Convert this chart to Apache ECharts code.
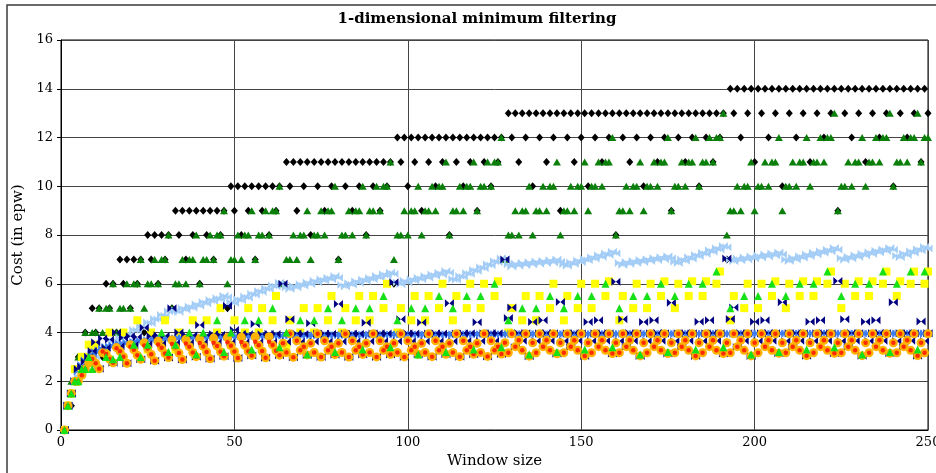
<!DOCTYPE html>
<html><head><meta charset="utf-8">
<script src="https://cdn.jsdelivr.net/npm/echarts@6/dist/echarts.min.js"></script>
<style>html,body{margin:0;padding:0;background:#fff}#c{width:936px;height:473px}</style>
</head><body><div id="c"></div>
<script>
// Window sizes run 1..250; value index i belongs to window size firstWindow + i
const firstWindow = 1;
const xTickStep = 50, yTickStep = 2;
const titleText = '1-dimensional minimum filtering';
const n = null; // no visible mark at that window size

const blackDiamond = [
0,1,1,2,3,3,4,3,5,4,5,3,6,5,6,4,
7,6,7,5,7,6,7,4,8,7,8,6,8,7,8,5,
9,8,9,7,9,8,9,6,9,8,9,7,9,8,9,5,
10,9,10,8,10,9,10,7,10,9,10,8,10,9,10,6,
11,10,11,9,11,10,11,8,11,10,11,9,11,10,11,7,
11,10,11,9,11,10,11,8,11,10,11,9,11,10,11,6,
12,11,12,10,12,11,12,9,12,11,12,10,12,11,12,8,
12,11,12,10,12,11,12,9,12,11,12,10,12,11,12,7,
13,12,13,11,13,12,13,10,13,12,13,11,13,12,13,9,
13,12,13,11,13,12,13,10,13,12,13,11,13,12,13,8,
13,12,13,11,13,12,13,10,13,12,13,11,13,12,13,9,
13,12,13,11,13,12,13,10,13,12,13,11,13,12,13,7,
14,13,14,12,14,13,14,11,14,13,14,12,14,13,14,10,
14,13,14,12,14,13,14,11,14,13,14,12,14,13,14,9,
14,13,14,12,14,13,14,11,14,13,14,12,14,13,14,10,
14,13,14,12,14,13,14,11,14,13];

const darkGreen = [
0,1,2,2,3,3,4,3,4,4,5,4,5,5,6,4,
5,5,6,5,6,6,7,5,6,6,7,6,7,7,8,5,
6,6,7,6,7,7,8,6,7,7,8,7,8,8,9,6,
7,7,8,7,8,8,9,7,8,8,9,8,9,9,10,6,
7,7,8,7,8,8,9,7,8,8,9,8,9,9,10,7,
8,8,9,8,9,9,10,8,9,9,10,9,10,10,11,7,
8,8,9,8,9,9,10,8,9,9,10,9,10,10,11,8,
9,9,10,9,10,10,11,9,10,10,11,10,11,11,12,7,
8,8,9,8,9,9,10,8,9,9,10,9,10,10,11,8,
9,9,10,9,10,10,11,9,10,10,11,10,11,11,12,8,
9,9,10,9,10,10,11,9,10,10,11,10,11,11,12,9,
10,10,11,10,11,11,12,10,11,11,12,11,12,12,13,8,
9,9,10,9,10,10,11,9,10,10,11,10,11,11,12,9,
10,10,11,10,11,11,12,10,11,11,12,11,12,12,13,9,
10,10,11,10,11,11,12,10,11,11,12,11,12,12,13,10,
11,11,12,11,12,12,13,11,12,12];

const lightBlue = [
0,1,1.5,2,2.2,2.4,2.6,2.75,2.94,3.01,3.19,3.26,3.44,3.46,3.64,3.66,
3.8,3.77,3.95,3.93,4.1,4.08,4.25,4.23,4.41,4.38,4.55,4.54,4.72,4.69,4.87,4.85,
4.9,4.84,4.99,4.93,5.07,5.02,5.16,5.1,5.25,5.19,5.33,5.28,5.42,5.36,5.51,5.45,
5.25,5.21,5.36,5.32,5.48,5.43,5.59,5.55,5.7,5.66,5.82,5.77,5.93,5.89,6.04,6.0,
5.85,5.78,5.92,5.85,5.98,5.92,6.05,5.98,6.12,6.05,6.18,6.12,6.25,6.18,6.32,6.25,
5.95,5.89,6.02,5.96,6.1,6.03,6.17,6.11,6.24,6.18,6.32,6.25,6.39,6.33,6.46,6.4,
6.05,5.98,6.12,6.05,6.18,6.12,6.25,6.18,6.32,6.25,6.38,6.32,6.45,6.38,6.52,6.45,
6.2,6.16,6.32,6.28,6.44,6.4,6.56,6.52,6.68,6.64,6.8,6.76,6.92,6.88,7.04,7.0,
6.8,6.71,6.83,6.74,6.85,6.77,6.88,6.79,6.91,6.82,6.93,6.85,6.96,6.87,6.99,6.9,
6.8,6.74,6.87,6.81,6.95,6.88,7.02,6.96,7.09,7.03,7.17,7.1,7.24,7.18,7.31,7.25,
6.85,6.77,6.89,6.81,6.93,6.85,6.97,6.89,7.01,6.93,7.05,6.97,7.09,7.01,7.13,7.05,
6.9,6.85,6.99,6.94,7.09,7.03,7.18,7.13,7.27,7.22,7.37,7.31,7.46,7.41,7.55,7.5,
7.0,6.92,7.04,6.96,7.08,7.0,7.12,7.04,7.16,7.08,7.2,7.12,7.24,7.16,7.28,7.2,
7.0,6.93,7.07,7.0,7.13,7.07,7.2,7.13,7.27,7.2,7.33,7.27,7.4,7.33,7.47,7.4,
7.05,6.98,7.11,7.04,7.17,7.1,7.23,7.16,7.29,7.22,7.35,7.28,7.41,7.34,7.47,7.4,
7.15,7.09,7.24,7.18,7.33,7.27,7.42,7.36,7.51,7.45];

const yellowSq = [
0,1,1.5,2.5,2.5,3,3,3.5,3.3,3.5,n,n,3.3,4,n,n,
3.3,4,n,n,3.5,4.5,n,n,3.3,4,n,n,3.5,4.5,n,n,
3.3,4,n,n,3.5,4.5,n,n,3.5,4.5,n,n,4,5,n,n,
3.5,4.5,n,n,4,5,n,n,4,5,n,n,4.5,5.5,n,n,
3.5,4.5,n,n,4,5,n,n,4,5,n,n,4.5,5.5,n,n,
4,5,n,n,4.5,5.5,n,n,4.5,5.5,n,n,5,6,n,n,
4,5,n,n,4.5,5.5,n,n,4.5,5.5,n,n,5,6,n,n,
4.5,5.5,n,n,5,6,n,n,5,6,n,n,5.5,6.1,n,n,
4,5,n,n,4.5,5.5,n,n,4.5,5.5,n,n,5,6,n,n,
4.5,5.5,n,n,5,6,n,n,5,6,n,n,5.5,6.1,n,n,
4.5,5.5,n,n,5,6,n,n,5,6,n,n,5.5,6.1,n,n,
5,6,n,n,5.5,6.1,n,n,5.5,6.1,n,n,6,6.5,n,n,
4.5,5.5,n,n,5,6,n,n,5,6,n,n,5.5,6.1,n,n,
5,6,n,n,5.5,6.1,n,n,5.5,6.1,n,n,6,6.5,n,n,
5,6,n,n,5.5,6.1,n,n,5.5,6.1,n,n,6,6.5,n,n,
5.5,6.1,n,n,6,6.5,n,n,6,6.5];

const blueTie = [
0,1,1.5,2,2.4,2.67,2.86,3,3.11,3.2,3.27,3.33,3.38,3.43,3.47,3.5,
3.53,3.56,3.58,3.6,3.62,3.64,3.65,3.67,3.68,3.69,3.7,3.71,3.72,3.73,3.74,3.75,
3.76,3.76,3.77,3.78,3.78,3.79,3.79,3.8,3.8,3.81,3.81,3.82,3.82,3.83,3.83,3.83,
3.84,3.84,3.84,3.85,3.85,3.85,3.85,3.86,3.86,3.86,3.86,3.87,3.87,3.87,3.87,3.88,
3.88,3.88,3.88,3.88,3.88,3.89,3.89,3.89,3.89,3.89,3.89,3.89,3.9,3.9,3.9,3.9,
3.9,3.9,3.9,3.9,3.91,3.91,3.91,3.91,3.91,3.91,3.91,3.91,3.91,3.91,3.92,3.92,
3.92,3.92,3.92,3.92,3.92,3.92,3.92,3.92,3.92,3.92,3.92,3.92,3.92,3.92,3.92,3.92,
3.93,3.93,3.93,3.93,3.93,3.93,3.93,3.93,3.93,3.93,3.93,3.93,3.93,3.93,3.93,3.93,
3.94,3.94,3.94,3.94,3.94,3.94,3.94,3.94,3.94,3.94,3.94,3.94,3.94,3.94,3.94,3.94,
3.94,3.94,3.94,3.94,3.94,3.94,3.94,3.94,3.94,3.94,3.94,3.94,3.94,3.94,3.94,3.94,
3.95,3.95,3.95,3.95,3.95,3.95,3.95,3.95,3.95,3.95,3.95,3.95,3.95,3.95,3.95,3.95,
3.95,3.95,3.95,3.95,3.95,3.95,3.95,3.95,3.95,3.95,3.95,3.95,3.95,3.95,3.95,3.95,
3.95,3.95,3.95,3.95,3.95,3.95,3.95,3.95,3.96,3.96,3.96,3.96,3.96,3.96,3.96,3.96,
3.96,3.96,3.96,3.96,3.96,3.96,3.96,3.96,3.96,3.96,3.96,3.96,3.96,3.96,3.96,3.96,
3.96,3.96,3.96,3.96,3.96,3.96,3.96,3.96,3.96,3.96,3.96,3.96,3.96,3.96,3.96,3.96,
3.96,3.96,3.96,3.96,3.96,3.96,3.96,3.96,3.96,3.96];

const navyTie = [
0,1,1.5,2,2.5,2.6,2.8,3,3.24,3.6,2.51,3.75,3.37,3.71,2.76,4,
3.44,3.78,2.74,3.85,3.49,3.82,2.9,4.19,3.52,3.85,2.84,3.89,3.54,3.87,2.97,5,
3.56,4.0,2.89,3.92,3.57,3.89,3.01,4.31,3.58,3.9,2.92,3.93,3.59,3.91,3.03,5.1,
3.6,4.1,2.95,3.94,3.6,3.93,3.06,4.35,3.61,3.93,2.96,3.95,3.61,3.94,3.07,6,
3.62,4.54,2.98,3.96,3.62,3.94,3.08,4.38,3.63,3.95,2.99,3.96,3.63,3.95,3.09,5.17,
3.63,3.95,2.99,3.96,3.63,3.95,3.1,4.4,3.64,3.96,3.0,3.97,3.64,3.96,3.1,6.06,
3.64,4.54,3.0,3.97,3.64,3.96,3.11,4.41,3.64,3.96,3.01,3.97,3.64,3.96,3.11,5.2,
3.64,3.96,3.01,3.97,3.65,3.97,3.11,4.42,3.65,3.97,3.02,3.98,3.65,3.97,3.12,7,
4.6,5.03,3.4,3.98,3.66,3.97,3.03,4.43,3.65,3.97,4.5,3.98,3.66,3.97,3.13,5.25,
3.65,3.97,3.4,3.98,3.66,3.97,3.04,4.43,3.65,3.97,4.5,3.98,3.66,3.97,3.14,6.08,
3.65,4.54,3.4,3.98,3.66,3.97,3.04,4.43,3.65,3.97,4.5,3.98,3.66,3.97,3.14,5.22,
3.65,3.97,3.4,3.98,3.66,3.97,3.04,4.44,3.65,3.97,4.5,3.98,3.66,3.97,3.14,7.04,
4.55,5.03,3.4,3.98,3.66,3.97,3.04,4.44,3.65,3.97,4.5,3.98,3.66,3.97,3.15,5.24,
3.65,3.97,3.4,3.98,3.66,3.97,3.05,4.44,3.65,3.97,4.5,3.98,3.66,3.97,3.15,6.11,
3.65,4.54,3.4,3.98,3.66,3.97,3.05,4.44,3.65,3.97,4.5,3.98,3.66,3.97,3.15,5.24,
3.65,3.97,3.4,3.98,3.66,3.97,3.05,4.45,3.65,3.97];

const orangeCirc = [
0,1,1.5,2,2,2.25,2.5,2.75,2.91,2.74,2.51,3.17,3.12,2.91,2.76,3.38,
3.23,3.01,2.74,3.5,3.29,3.07,2.9,3.58,3.34,3.11,2.84,3.64,3.37,3.14,2.97,3.69,
3.4,3.16,2.89,3.72,3.42,3.18,3.01,3.75,3.43,3.2,2.92,3.77,3.45,3.21,3.03,3.79,
3.46,3.22,2.95,3.81,3.47,3.23,3.06,3.82,3.48,3.24,2.96,3.83,3.49,3.25,3.07,3.56,
3.18,3.95,2.98,3.66,3.27,3.42,3.08,3.56,3.18,3.95,2.99,3.66,3.27,3.42,3.09,3.56,
3.18,3.95,2.99,3.66,3.27,3.42,3.1,3.56,3.18,3.95,3.0,3.66,3.27,3.42,3.1,3.56,
3.18,3.95,3.0,3.66,3.27,3.42,3.11,3.56,3.18,3.95,3.01,3.66,3.27,3.42,3.11,3.56,
3.18,3.95,3.01,3.66,3.27,3.42,3.11,3.56,3.18,3.95,3.02,3.66,3.27,3.42,3.12,3.58,
3.17,3.95,3.42,3.68,3.27,3.95,3.03,3.58,3.17,3.95,3.42,3.68,3.27,3.95,3.13,3.58,
3.17,3.95,3.42,3.68,3.27,3.95,3.04,3.58,3.17,3.95,3.42,3.68,3.27,3.95,3.14,3.58,
3.17,3.95,3.42,3.68,3.27,3.95,3.04,3.58,3.17,3.95,3.42,3.68,3.27,3.95,3.14,3.58,
3.17,3.95,3.42,3.68,3.27,3.95,3.04,3.58,3.17,3.95,3.42,3.68,3.27,3.95,3.14,3.58,
3.17,3.95,3.42,3.68,3.27,3.95,3.04,3.58,3.17,3.95,3.42,3.68,3.27,3.95,3.15,3.58,
3.17,3.95,3.42,3.68,3.27,3.95,3.05,3.58,3.17,3.95,3.42,3.68,3.27,3.95,3.15,3.58,
3.17,3.95,3.42,3.68,3.27,3.95,3.05,3.58,3.17,3.95,3.42,3.68,3.27,3.95,3.15,3.58,
3.17,3.95,3.42,3.68,3.27,3.95,3.05,3.58,3.17,3.95];

const redDot = [
0,1,1.5,2,2,2.25,2.5,2.97,2.91,2.74,2.51,3.22,3.12,2.91,2.76,3.35,
3.23,3.01,2.74,3.42,3.29,3.07,2.9,3.47,3.34,3.11,2.84,3.51,3.37,3.14,2.97,3.53,
3.4,3.16,2.89,3.55,3.42,3.18,3.01,3.57,3.43,3.2,2.92,3.58,3.45,3.21,3.03,3.6,
3.46,3.22,2.95,3.61,3.47,3.23,3.06,3.62,3.48,3.24,2.96,3.62,3.49,3.25,3.07,3.56,
3.18,3.95,2.98,3.66,3.27,3.42,3.08,3.56,3.18,3.95,2.99,3.66,3.27,3.42,3.09,3.56,
3.18,3.95,2.99,3.66,3.27,3.42,3.1,3.56,3.18,3.95,3.0,3.66,3.27,3.42,3.1,3.56,
3.18,3.95,3.0,3.66,3.27,3.42,3.11,3.56,3.18,3.95,3.01,3.66,3.27,3.42,3.11,3.56,
3.18,3.95,3.01,3.66,3.27,3.42,3.11,3.56,3.18,3.95,3.02,3.66,3.27,3.42,3.12,3.58,
3.17,3.95,3.42,3.68,3.27,3.95,3.03,3.58,3.17,3.95,3.42,3.68,3.27,3.95,3.13,3.58,
3.17,3.95,3.42,3.68,3.27,3.95,3.04,3.58,3.17,3.95,3.42,3.68,3.27,3.95,3.14,3.58,
3.17,3.95,3.42,3.68,3.27,3.95,3.04,3.58,3.17,3.95,3.42,3.68,3.27,3.95,3.14,3.58,
3.17,3.95,3.42,3.68,3.27,3.95,3.04,3.58,3.17,3.95,3.42,3.68,3.27,3.95,3.14,3.58,
3.17,3.95,3.42,3.68,3.27,3.95,3.04,3.58,3.17,3.95,3.42,3.68,3.27,3.95,3.15,3.58,
3.17,3.95,3.42,3.68,3.27,3.95,3.05,3.58,3.17,3.95,3.42,3.68,3.27,3.95,3.15,3.58,
3.17,3.95,3.42,3.68,3.27,3.95,3.05,3.58,3.17,3.95,3.42,3.68,3.27,3.95,3.15,3.58,
3.17,3.95,3.42,3.68,3.27,3.95,3.05,3.58,3.17,3.95];

const limeTri = [
0,1,1.5,2,2,2.5,2.5,3,2.5,n,n,n,3,n,2.9,n,
3,n,n,n,3.5,n,3.0,n,3.5,n,n,n,4,n,3.2,n,
3.5,n,n,n,4,n,3.1,n,4,n,n,n,4.5,n,3.2,n,
4,n,n,n,4.5,n,3.3,n,4.5,n,n,n,5,n,3.4,n,
4,n,n,n,4.5,n,3.1,n,4.5,n,n,n,5,n,3.2,n,
4.5,n,n,n,5,n,3.3,n,5,n,n,n,5.5,n,3.4,n,
4.5,n,n,n,5,n,3.1,n,5,n,n,n,5.5,n,3.2,n,
5,n,n,n,5.5,n,3.3,n,5.5,n,n,n,6,n,3.4,n,
4.5,n,n,n,5,n,3.1,n,5,n,n,n,5.5,n,3.2,n,
5,n,n,n,5.5,n,3.3,n,5.5,n,n,n,6,n,3.4,n,
5,n,n,n,5.5,n,3.1,n,5.5,n,n,n,6,n,3.2,n,
5.5,n,n,n,6,n,3.3,n,6,n,n,n,6.5,n,3.4,n,
5,n,n,n,5.5,n,3.1,n,5.5,n,n,n,6,n,3.2,n,
5.5,n,n,n,6,n,3.3,n,6,n,n,n,6.5,n,3.4,n,
5.5,n,n,n,6,n,3.1,n,6,n,n,n,6.5,n,3.2,n,
6,n,n,n,6.5,n,3.3,n,6.5,n];

const SERIF = '"DejaVu Serif", "Liberation Serif", serif';
const bowtie = 'path://M0,0L0,10L5,5Z M10,0L10,10L5,5Z';

const seriesSpec = [
  ['black', blackDiamond, 'diamond', [7,8], '#000000'],
  ['darkGreen', darkGreen, 'triangle', [8,7], '#0a7f0a'],
  ['lightBlue', lightBlue, bowtie, [9,8], '#a3cdf6'],
  ['yellow', yellowSq, 'rect', [8,8], '#ffff00'],
  ['blue', blueTie, bowtie, [9,8], '#3f7ef2'],
  ['navy', navyTie, bowtie, [9,8], '#000080'],
  ['orange', orangeCirc, 'circle', 9, '#ffb300'],
  ['red', redDot, 'circle', 4.5, '#ff2a00'],
  ['lime', limeTri, 'triangle', [8,8], '#16e016']
];
seriesSpec.forEach(s => { if (s[1].length !== 250) throw new Error('length ' + s[0] + ' ' + s[1].length); });

const chart = echarts.init(document.getElementById('c'), null, {renderer: 'canvas'});
chart.setOption({
  animation: false,
  backgroundColor: '#ffffff',
  textStyle: {fontFamily: SERIF},
  graphic: [
    {type: 'rect', shape: {x: 7, y: 5, width: 940, height: 480}, style: {fill: 'none', stroke: '#3a3a3a', lineWidth: 1.5}, silent: true},
    {type: 'text', x: 477, y: 19, style: {text: titleText, font: 'bold 15px ' + SERIF, fill: '#000', textAlign: 'center', textVerticalAlign: 'middle'}}
  ],
  grid: {left: 61, right: 8, top: 40, bottom: 43, containLabel: false, outerBoundsMode: 'none',
         show: true, borderColor: '#000', borderWidth: 1, backgroundColor: 'transparent'},
  xAxis: {
    type: 'value', min: 0, max: 250, interval: xTickStep,
    name: 'Window size', nameLocation: 'middle', nameGap: 23,
    nameTextStyle: {fontFamily: SERIF, fontSize: 15, color: '#000'},
    axisLine: {show: true, lineStyle: {color: '#000', width: 1}},
    axisTick: {show: false},
    axisLabel: {fontFamily: SERIF, fontSize: 13, color: '#000', margin: 6},
    splitLine: {show: true, lineStyle: {color: '#444', width: 1}}
  },
  yAxis: {
    type: 'value', min: 0, max: 16, interval: yTickStep,
    name: 'Cost (in epw)', nameLocation: 'middle', nameGap: 32,
    nameTextStyle: {fontFamily: SERIF, fontSize: 15, color: '#000'},
    axisLine: {show: true, lineStyle: {color: '#000', width: 1}},
    axisTick: {show: true, inside: false, length: 4, lineStyle: {color: '#000'}},
    axisLabel: {fontFamily: SERIF, fontSize: 13, color: '#000', margin: 8},
    splitLine: {show: true, lineStyle: {color: '#444', width: 1}}
  },
  series: seriesSpec.map(s => ({
    name: s[0], type: 'scatter', clip: false,
    symbol: s[2], symbolSize: s[3],
    itemStyle: {color: s[4], opacity: 1},
    emphasis: {disabled: true},
    data: s[1].map((v, i) => v === null ? null : [firstWindow + i, v]).filter(p => p !== null)
  }))
});
</script>
</body></html>
